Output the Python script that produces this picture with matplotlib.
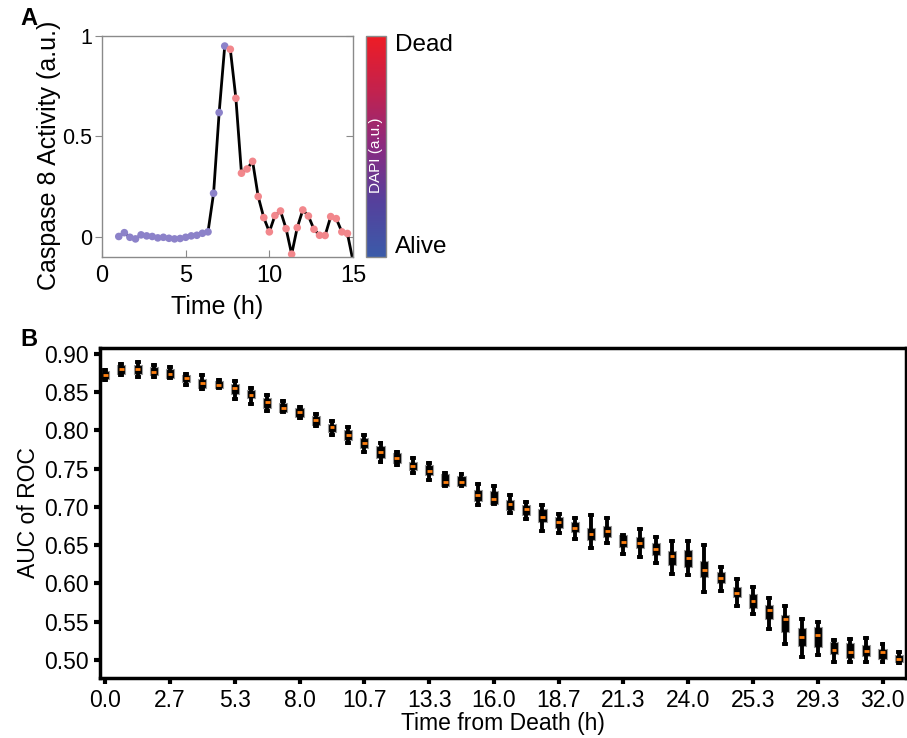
import numpy as np
import matplotlib
matplotlib.use("Agg")
import matplotlib.pyplot as plt
from matplotlib.colors import LinearSegmentedColormap
from matplotlib.colorbar import ColorbarBase

plt.rcParams['font.family'] = ['Liberation Sans', 'DejaVu Sans']

# ---------------- panel A data (single cell trace) ----------------
time_h = [1 + i / 3 for i in range(43)]
casp8 = [0.002, 0.021, -0.002, -0.010, 0.010, 0.005, 0.002, -0.005, -0.002, -0.007,
         -0.010, -0.008, -0.002, 0.005, 0.008, 0.018, 0.025, 0.217, 0.619, 0.950,
         0.934, 0.690, 0.317, 0.338, 0.376, 0.201, 0.096, 0.025, 0.106, 0.129,
         0.041, -0.086, 0.046, 0.134, 0.104, 0.038, 0.008, 0.007, 0.101, 0.091,
         0.025, 0.017, -0.120]
dead = [0] * 20 + [1] * 23   # 0 = alive (DAPI low), 1 = dead

# ---------------- panel B data (AUC of ROC boxes) ----------------
tick_labels = ['0.0', '2.7', '5.3', '8.0', '10.7', '13.3', '16.0', '18.7',
               '21.3', '24.0', '25.3', '29.3', '32.0']
med = [0.873, 0.880, 0.880, 0.877, 0.874, 0.868, 0.862, 0.860, 0.855, 0.846,
       0.837, 0.830, 0.824, 0.814, 0.804, 0.794, 0.783, 0.772, 0.764, 0.754,
       0.747, 0.733, 0.733, 0.716, 0.710, 0.704, 0.697, 0.687, 0.680, 0.673,
       0.665, 0.669, 0.654, 0.653, 0.645, 0.636, 0.633, 0.618, 0.607, 0.588,
       0.577, 0.566, 0.554, 0.530, 0.533, 0.513, 0.510, 0.512, 0.510, 0.501]
q3 = [0.878, 0.885, 0.886, 0.883, 0.880, 0.873, 0.867, 0.865, 0.861, 0.853,
      0.842, 0.836, 0.830, 0.819, 0.809, 0.800, 0.790, 0.780, 0.770, 0.759,
      0.755, 0.743, 0.741, 0.722, 0.721, 0.709, 0.703, 0.698, 0.687, 0.680,
      0.673, 0.675, 0.663, 0.661, 0.653, 0.643, 0.644, 0.630, 0.615, 0.596,
      0.586, 0.572, 0.559, 0.542, 0.543, 0.523, 0.522, 0.520, 0.515, 0.507]
q1 = [0.867, 0.874, 0.874, 0.872, 0.869, 0.863, 0.856, 0.855, 0.848, 0.842,
      0.829, 0.824, 0.818, 0.807, 0.798, 0.788, 0.777, 0.764, 0.758, 0.748,
      0.742, 0.728, 0.728, 0.708, 0.704, 0.696, 0.690, 0.681, 0.672, 0.667,
      0.657, 0.661, 0.648, 0.646, 0.637, 0.624, 0.621, 0.608, 0.600, 0.582,
      0.568, 0.553, 0.537, 0.518, 0.517, 0.508, 0.503, 0.505, 0.501, 0.497]
whi = [0.879, 0.887, 0.889, 0.885, 0.883, 0.874, 0.872, 0.866, 0.864, 0.856,
       0.846, 0.839, 0.831, 0.822, 0.812, 0.805, 0.794, 0.783, 0.772, 0.764,
       0.757, 0.745, 0.743, 0.730, 0.727, 0.715, 0.706, 0.703, 0.691, 0.686,
       0.690, 0.685, 0.664, 0.671, 0.661, 0.656, 0.655, 0.650, 0.621, 0.606,
       0.595, 0.581, 0.571, 0.553, 0.550, 0.526, 0.528, 0.529, 0.521, 0.510]
wlo = [0.866, 0.873, 0.870, 0.870, 0.868, 0.859, 0.854, 0.855, 0.841, 0.835,
       0.826, 0.824, 0.816, 0.806, 0.794, 0.783, 0.772, 0.759, 0.755, 0.745,
       0.735, 0.727, 0.727, 0.702, 0.704, 0.692, 0.684, 0.669, 0.666, 0.658,
       0.646, 0.653, 0.639, 0.634, 0.627, 0.612, 0.611, 0.589, 0.590, 0.571,
       0.560, 0.541, 0.521, 0.504, 0.507, 0.497, 0.497, 0.498, 0.498, 0.496]

fig = plt.figure(figsize=(9.07, 7.38), dpi=100)

# ---------------- panel A ----------------
axA = fig.add_axes([0.1125, 0.6518, 0.2767, 0.2994])
cols = ['#8c82c9' if d == 0 else '#f2878c' for d in dead]
axA.plot(time_h, casp8, color='black', lw=2, zorder=2)
axA.scatter(time_h, casp8, c=cols, s=30, zorder=3, linewidths=0)
axA.set_xlim(0, 15)
axA.set_ylim(-0.1, 1.0)
axA.set_xticks([0, 5, 10, 15])
axA.set_yticks([0, 0.5, 1])
axA.set_yticklabels(['0', '0.5', '1'])
for s in axA.spines.values():
    s.set_color('#8a8a8a')
    s.set_linewidth(1)
axA.tick_params(axis='x', direction='in', length=5, color='#8a8a8a', labelsize=17, pad=6)
axA.tick_params(axis='y', direction='out', length=5, color='#8a8a8a', labelsize=15.5, pad=2)
sec = axA.secondary_yaxis('right')
sec.set_yticks([0, 0.5, 1])
sec.tick_params(direction='in', length=5, color='#8a8a8a', labelright=False)
sec.spines['right'].set_visible(False)
axA.set_xlabel('Time (h)', fontsize=18)
axA.xaxis.set_label_coords(0.458, -0.17)
axA.set_ylabel('Caspase 8 Activity (a.u.)', fontsize=18)
axA.yaxis.set_label_coords(-0.165, 0.46)

# colorbar
cax = fig.add_axes([0.4035, 0.6518, 0.0221, 0.2994])
cmap = LinearSegmentedColormap.from_list('dapi', ['#3b5ba9', '#55409c', '#8a2a80', '#c2224e', '#ee1c25'])
ColorbarBase(cax, cmap=cmap, orientation='vertical')
cax.set_yticks([])
cax.set_xticks([])
for s in cax.spines.values():
    s.set_color('#8a8a8a')
    s.set_linewidth(1)
cax.text(0.5, 0.46, 'DAPI (a.u.)', rotation=90, color='white', fontsize=11,
         ha='center', va='center', transform=cax.transAxes)
cax.text(1.45, 0.96, 'Dead', fontsize=17.5, ha='left', va='center', transform=cax.transAxes)
cax.text(1.45, 0.045, 'Alive', fontsize=17.5, ha='left', va='center', transform=cax.transAxes)

# ---------------- panel B ----------------
axB = fig.add_axes([0.1103, 0.0813, 0.8886, 0.4472])
stats = []
for i in range(len(med)):
    stats.append(dict(med=med[i], q1=q1[i], q3=q3[i], whislo=wlo[i], whishi=whi[i]))
bp = axB.bxp(stats, positions=list(range(len(med))), widths=0.5, patch_artist=True,
             showfliers=False, capwidths=0.12,
             boxprops=dict(facecolor='black', edgecolor='#999999', linewidth=0.8),
             medianprops=dict(color='#ff7f0e', linewidth=2, solid_capstyle='butt'),
             whiskerprops=dict(color='black', linewidth=2.8),
             capprops=dict(color='black', linewidth=2.8))
for line in bp['medians']:
    xd = line.get_xdata()
    c = (xd[0] + xd[-1]) / 2
    line.set_xdata([c - 0.15, c + 0.15])

axB.set_xlim(-0.32, 49.45)
axB.set_ylim(0.4765, 0.9078)
axB.set_xticks(list(range(0, 49, 4)))
axB.set_xticklabels(tick_labels)
yt = np.arange(0.50, 0.901, 0.05)
axB.set_yticks(yt)
axB.set_yticklabels(['%.2f' % v for v in yt])
for s in axB.spines.values():
    s.set_linewidth(2.5)
axB.tick_params(direction='out', length=4, width=3, labelsize=16.5, pad=4)
axB.set_xlabel('Time from Death (h)', fontsize=16.5, labelpad=0)
axB.set_ylabel('AUC of ROC', fontsize=16.5, labelpad=3)

fig.text(0.022, 0.975, 'A', fontsize=17, fontweight='bold', ha='left', va='center')
fig.text(0.022, 0.54, 'B', fontsize=17, fontweight='bold', ha='left', va='center')

fig.savefig('out.png', dpi=100)
